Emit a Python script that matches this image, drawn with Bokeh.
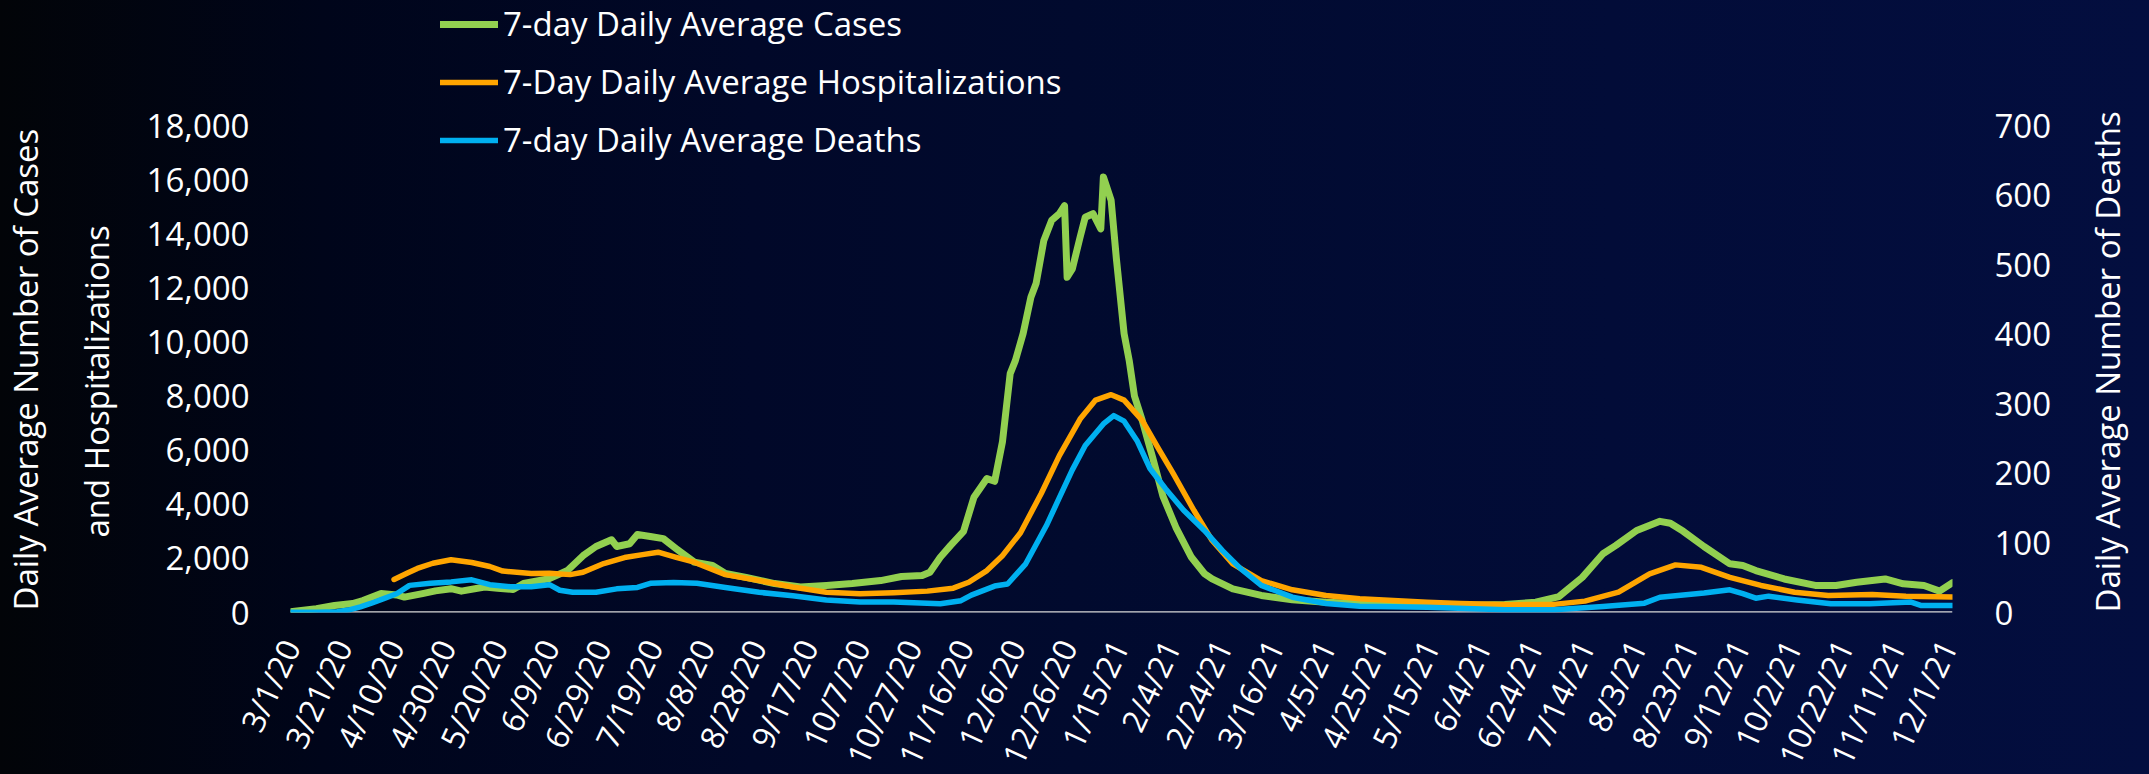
import math
from datetime import date, datetime

from bokeh.plotting import figure
from bokeh.models import (LinearAxis, Range1d, FixedTicker, NumeralTickFormatter, Legend,
                          LegendItem, Span, GlobalInlineStyleSheet, Title)
from bokeh.embed import file_html
from bokeh.resources import INLINE

START = date(2020, 3, 1)

# ---- data (x values are days since 3/1/20) ----
tick_labels = ["3/1/20", "3/21/20", "4/10/20", "4/30/20", "5/20/20", "6/9/20", "6/29/20",
               "7/19/20", "8/8/20", "8/28/20", "9/17/20", "10/7/20", "10/27/20", "11/16/20",
               "12/6/20", "12/26/20", "1/15/21", "2/4/21", "2/24/21", "3/16/21", "4/5/21",
               "4/25/21", "5/15/21", "6/4/21", "6/24/21", "7/14/21", "8/3/21", "8/23/21",
               "9/12/21", "10/2/21", "10/22/21", "11/11/21", "12/1/21"]

left_ticks = [0, 2000, 4000, 6000, 8000, 10000, 12000, 14000, 16000, 18000]
right_ticks = [0, 100, 200, 300, 400, 500, 600, 700]

cases_day = [0, 10, 17, 24, 28, 35, 41, 44, 51, 56, 62, 66, 75, 80, 86, 90, 100, 107, 113,
             118, 124, 126, 131, 134, 139, 144, 149, 156, 163, 168, 176, 187, 197, 207, 217,
             228, 236, 244, 247, 251, 255, 260, 264, 269, 272, 275, 278, 280, 283, 286, 288,
             291, 294, 297, 299, 300, 302, 305, 307, 310, 313, 314, 317, 319, 322, 324, 326,
             329, 333, 337, 342, 348, 353, 356, 364, 375, 387, 400, 415, 430, 449, 469, 481,
             490, 499, 507, 512, 520, 529, 533, 538, 546, 556, 561, 566, 577, 589, 597, 605,
             616, 623, 631, 637, 642]
cases = [30, 140, 260, 330, 440, 700, 650, 570, 700, 800, 880, 790, 940, 900, 850, 1070, 1250,
         1550, 2100, 2440, 2690, 2440, 2540, 2880, 2810, 2730, 2360, 1860, 1740, 1440, 1300,
         1070, 940, 1000, 1070, 1180, 1330, 1370, 1490, 2040, 2480, 3000, 4260, 4950, 4850,
         6300, 8830, 9310, 10310, 11650, 12160, 13750, 14490, 14740, 15040, 12390, 12700,
         13870, 14610, 14740, 14180, 16100, 15230, 13100, 10310, 9300, 8000, 7100, 5740, 4300,
         3150, 2040, 1440, 1240, 875, 630, 470, 380, 320, 280, 250, 300, 380, 590, 1300, 2170,
         2480, 3030, 3370, 3300, 3000, 2440, 1800, 1740, 1550, 1240, 1000, 1000, 1120, 1240,
         1060, 1000, 790, 1100]

hosp_day = [40, 45, 49, 55, 62, 70, 77, 82, 93, 100, 108, 113, 121, 129, 136, 142, 149, 156,
            160, 168, 181, 194, 207, 220, 233, 246, 256, 262, 269, 275, 282, 290, 297, 305,
            311, 317, 322, 329, 335, 341, 349, 356, 364, 375, 387, 400, 413, 426, 439, 452,
            471, 488, 500, 513, 525, 535, 545, 556, 568, 581, 594, 611, 624, 642]
hosp = [1220, 1450, 1630, 1820, 1950, 1850, 1700, 1530, 1440, 1450, 1400, 1490, 1810, 2030,
        2140, 2230, 2040, 1860, 1700, 1400, 1180, 940, 750, 690, 730, 790, 900, 1120, 1550,
        2100, 2950, 4400, 5800, 7150, 7850, 8050, 7850, 7100, 6100, 5130, 3770, 2660, 1800,
        1180, 840, 630, 505, 440, 380, 330, 290, 300, 420, 750, 1430, 1760, 1670, 1300, 1000,
        750, 630, 665, 600, 570]

deaths_day = [0, 10, 18, 23, 27, 31, 36, 41, 46, 54, 62, 70, 77, 85, 93, 100, 104, 109, 118,
              126, 134, 139, 148, 157, 168, 181, 194, 207, 220, 233, 251, 259, 263, 272, 277,
              284, 292, 297, 302, 307, 314, 318, 322, 327, 332, 338, 345, 353, 360, 367, 375,
              387, 400, 413, 439, 469, 488, 507, 523, 529, 546, 556, 561, 566, 571, 582, 595,
              610, 626, 630, 642]
deaths = [0.5, 0.5, 1, 4, 8, 13, 20, 27, 39, 42, 44, 47, 40, 37, 37, 40, 32, 29, 29, 34, 36,
          42, 43, 42, 36, 29, 24, 18, 15, 15, 12.5, 17, 25, 38, 41, 70, 125, 165, 205, 240,
          271, 283, 275, 247, 207, 178, 147, 118, 89, 63, 39, 22, 13, 9, 7.5, 4, 4, 8.6, 13.4,
          22, 28, 32.6, 27, 20.6, 23.5, 18, 12.5, 12.5, 15, 10, 10]

series_names = ["7-day Daily Average Cases", "7-Day Daily Average Hospitalizations",
                "7-day Daily Average Deaths"]
left_title_lines = ["Daily Average Number of Cases", "and Hospitalizations"]
right_title = "Daily Average Number of Deaths"

# ---- styling ----
FONT = "Open Sans"
FS = "33px"
GREEN, ORANGE, BLUE = "#92D050", "#FFA500", "#00B0F0"

PLOT_H = 487      # pixel height of the 0..18000 span
HEADROOM = 125    # pixels above 18000 (room for the legend inside the frame)

tick_days = [(datetime.strptime(s, "%m/%d/%y").date() - START).days for s in tick_labels]
x_end = max(cases_day[-1], hosp_day[-1], deaths_day[-1])

left_max = left_ticks[-1]
right_max = right_ticks[-1]
left_top = left_max * (PLOT_H + HEADROOM) / PLOT_H
right_top = right_max * (PLOT_H + HEADROOM) / PLOT_H

p = figure(frame_width=1662, frame_height=PLOT_H + HEADROOM,
           min_border_left=279, min_border_right=192, min_border_top=0,
           min_border_bottom=162,
           x_range=Range1d(0, x_end), y_range=Range1d(0, left_top),
           output_backend="svg", toolbar_location=None)
p.extra_y_ranges = {"deaths": Range1d(0, right_top)}

p.background_fill_color = None
p.border_fill_color = None
p.outline_line_color = None
p.xgrid.visible = False
p.ygrid.visible = False

css = ("html, body { background: linear-gradient(to right, #020408 0%, #00051a 15%, "
       "#010829 35%, #010a2e 50%, #020c38 75%, #030e3f 100%); }")
p.stylesheets = [GlobalInlineStyleSheet(css=css)]

# baseline beneath the data
p.add_layout(Span(location=0, dimension="width", line_color="#D9D9D9", line_width=2.5,
                  level="underlay"))

r_cases = p.line(cases_day, cases, line_color=GREEN, line_width=7,
                 line_join="round", line_cap="round")
r_hosp = p.line(hosp_day, hosp, line_color=ORANGE, line_width=5.5,
                line_join="round", line_cap="round")
r_deaths = p.line(deaths_day, deaths, line_color=BLUE, line_width=5.5,
                  line_join="round", line_cap="round", y_range_name="deaths")

def style_axis(ax):
    ax.axis_line_color = None
    ax.major_tick_line_color = None
    ax.minor_tick_line_color = None
    ax.major_label_text_font = FONT
    ax.major_label_text_font_size = FS
    ax.major_label_text_color = "white"
    ax.axis_label_text_font = FONT
    ax.axis_label_text_font_size = FS
    ax.axis_label_text_font_style = "normal"
    ax.axis_label_text_color = "white"

# x axis
xa = p.xaxis[0]
style_axis(xa)
xa.ticker = FixedTicker(ticks=tick_days)
xa.major_label_overrides = {d: s for d, s in zip(tick_days, tick_labels)}
xa.major_label_orientation = math.radians(65)
xa.major_label_text_font_size = "32px"
xa.major_label_standoff = 23

# left axis
ya = p.yaxis[0]
style_axis(ya)
ya.bounds = (0, left_max)
ya.ticker = FixedTicker(ticks=left_ticks)
ya.formatter = NumeralTickFormatter(format="0,0")
ya.major_label_standoff = 35

def title_kw():
    return dict(text_font=FONT, text_font_size=FS, text_font_style="normal",
                text_color="white")

# inner line first (closest to the axis), then the outer line
p.add_layout(Title(text=left_title_lines[1], align="left", offset=75, standoff=49,
                   **title_kw()), "left")
p.add_layout(Title(text=left_title_lines[0], align="left", offset=2, standoff=0,
                   **title_kw()), "left")

# right axis
ra = LinearAxis(y_range_name="deaths", ticker=FixedTicker(ticks=right_ticks))
style_axis(ra)
ra.bounds = (0, right_max)
ra.major_label_standoff = 36
p.add_layout(ra, "right")

try:
    ra.axis_label_align = "start"
    ra.axis_label = right_title
    ra.axis_label_orientation = math.pi / 2
    ra.axis_label_standoff = 53
except Exception:
    ra.axis_label = None
    p.add_layout(Title(text=right_title, align="center", standoff=53, **title_kw()), "right")

legend = Legend(items=[LegendItem(label=series_names[0], renderers=[r_cases]),
                       LegendItem(label=series_names[1], renderers=[r_hosp]),
                       LegendItem(label=series_names[2], renderers=[r_deaths])],
                location=(150, 450))
legend.label_text_font = FONT
legend.label_text_font_size = FS
legend.label_text_color = "white"
legend.background_fill_alpha = 0
legend.border_line_alpha = 0
legend.glyph_width = 58
legend.glyph_height = 40
legend.label_height = 40
legend.label_standoff = 5
legend.spacing = 13
legend.padding = 0
legend.margin = 0
p.add_layout(legend)

open("out.html", "w").write(file_html(p, INLINE))
